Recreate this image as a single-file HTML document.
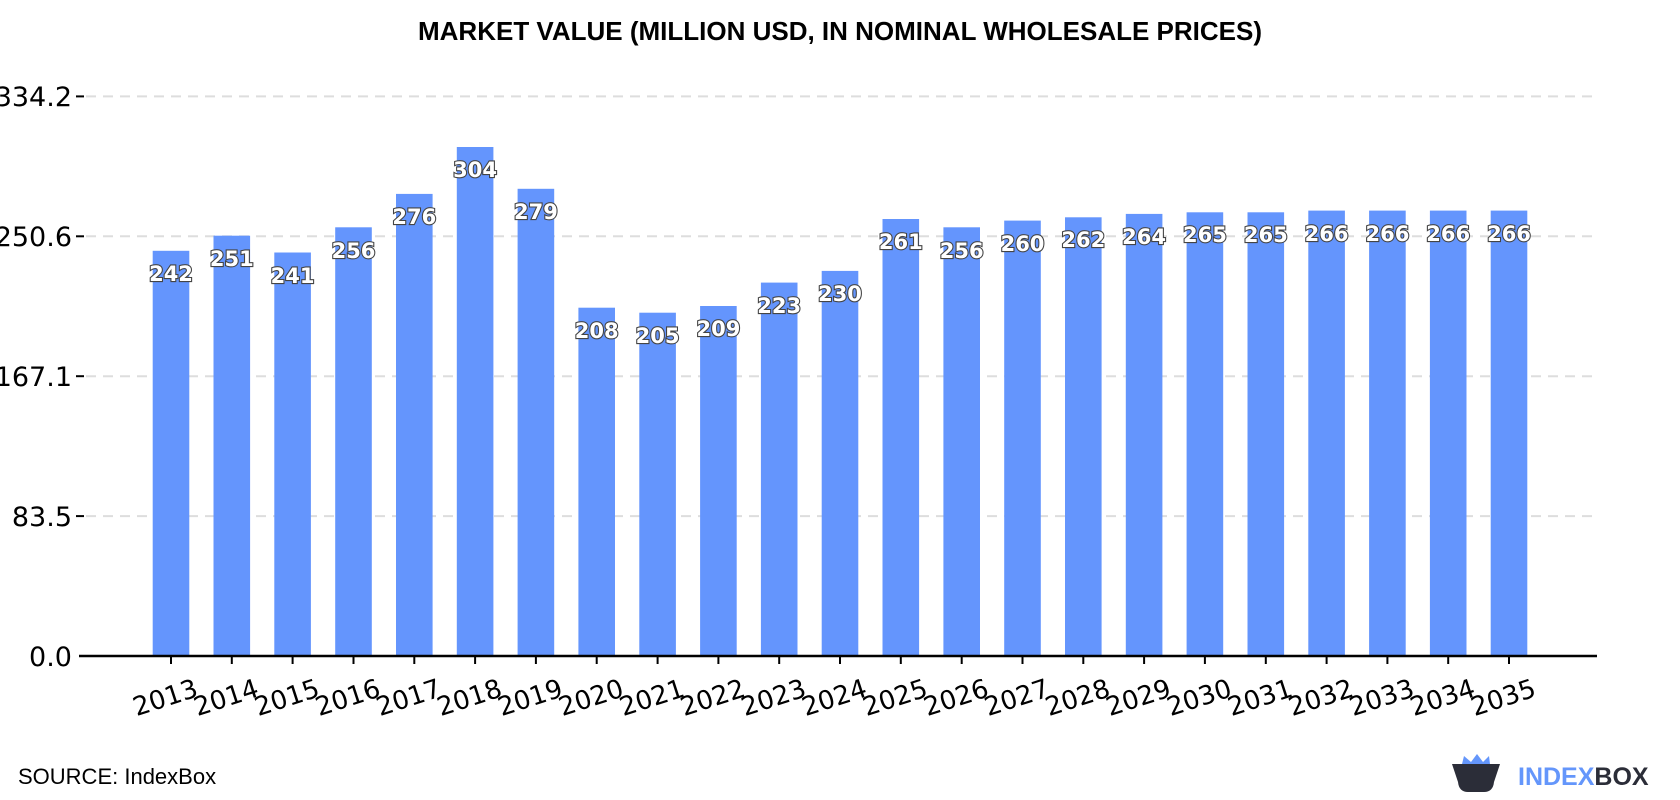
<!DOCTYPE html>
<html><head><meta charset="utf-8"><style>
body{margin:0;background:#fff;}
svg{display:block;font-family:"Liberation Sans",sans-serif;}
.v{font-weight:bold;font-size:21px;fill:#fff;stroke:#444;stroke-width:2.2px;paint-order:stroke;text-anchor:middle;font-family:"DejaVu Sans",sans-serif;}
.b{fill:#6495fd;}
.y{font-size:26px;font-family:"DejaVu Sans",sans-serif;text-anchor:middle;}
</style></head><body>
<svg width="1680" height="800" viewBox="0 0 1680 800" xmlns="http://www.w3.org/2000/svg">
<text x="840" y="40" text-anchor="middle" font-weight="bold" font-size="26">MARKET VALUE (MILLION USD, IN NOMINAL WHOLESALE PRICES)</text>
<g stroke="#dddddd" stroke-width="2" stroke-dasharray="10,7">
<line x1="86" x2="1597" y1="96.4" y2="96.4"/>
<line x1="86" x2="1597" y1="236.3" y2="236.3"/>
<line x1="86" x2="1597" y1="376.2" y2="376.2"/>
<line x1="86" x2="1597" y1="516.1" y2="516.1"/>
</g>
<g font-size="27" text-anchor="end" font-family="DejaVu Sans,sans-serif">
<text x="72" y="106">334.2</text><text x="72" y="246">250.6</text><text x="72" y="386">167.1</text><text x="72" y="526">83.5</text><text x="72" y="666">0.0</text>
</g>
<g stroke="#000" stroke-width="2"><line x1="76" x2="84" y1="96.4" y2="96.4"/><line x1="76" x2="84" y1="236.3" y2="236.3"/><line x1="76" x2="84" y1="376.2" y2="376.2"/><line x1="76" x2="84" y1="516.1" y2="516.1"/></g>

<g transform="translate(171,0)"><rect class="b" x="-18.3" y="250.8" width="36.6" height="405.2"/><text class="v" y="281">242</text></g>
<g transform="translate(231.8,0)"><rect class="b" x="-18.3" y="235.7" width="36.6" height="420.3"/><text class="v" y="266">251</text></g>
<g transform="translate(292.6,0)"><rect class="b" x="-18.3" y="252.5" width="36.6" height="403.5"/><text class="v" y="283">241</text></g>
<g transform="translate(353.5,0)"><rect class="b" x="-18.3" y="227.3" width="36.6" height="428.7"/><text class="v" y="258">256</text></g>
<g transform="translate(414.3,0)"><rect class="b" x="-18.3" y="193.9" width="36.6" height="462.1"/><text class="v" y="224">276</text></g>
<g transform="translate(475.1,0)"><rect class="b" x="-18.3" y="147" width="36.6" height="509"/><text class="v" y="177">304</text></g>
<g transform="translate(535.9,0)"><rect class="b" x="-18.3" y="188.8" width="36.6" height="467.2"/><text class="v" y="219">279</text></g>
<g transform="translate(596.7,0)"><rect class="b" x="-18.3" y="307.7" width="36.6" height="348.3"/><text class="v" y="338">208</text></g>
<g transform="translate(657.6,0)"><rect class="b" x="-18.3" y="312.7" width="36.6" height="343.3"/><text class="v" y="343">205</text></g>
<g transform="translate(718.4,0)"><rect class="b" x="-18.3" y="306" width="36.6" height="350"/><text class="v" y="336">209</text></g>
<g transform="translate(779.2,0)"><rect class="b" x="-18.3" y="282.6" width="36.6" height="373.4"/><text class="v" y="313">223</text></g>
<g transform="translate(840,0)"><rect class="b" x="-18.3" y="270.9" width="36.6" height="385.1"/><text class="v" y="301">230</text></g>
<g transform="translate(900.8,0)"><rect class="b" x="-18.3" y="219" width="36.6" height="437"/><text class="v" y="249">261</text></g>
<g transform="translate(961.7,0)"><rect class="b" x="-18.3" y="227.3" width="36.6" height="428.7"/><text class="v" y="258">256</text></g>
<g transform="translate(1022.5,0)"><rect class="b" x="-18.3" y="220.6" width="36.6" height="435.4"/><text class="v" y="251">260</text></g>
<g transform="translate(1083.3,0)"><rect class="b" x="-18.3" y="217.3" width="36.6" height="438.7"/><text class="v" y="247">262</text></g>
<g transform="translate(1144.1,0)"><rect class="b" x="-18.3" y="213.9" width="36.6" height="442.1"/><text class="v" y="244">264</text></g>
<g transform="translate(1204.9,0)"><rect class="b" x="-18.3" y="212.3" width="36.6" height="443.7"/><text class="v" y="242">265</text></g>
<g transform="translate(1265.8,0)"><rect class="b" x="-18.3" y="212.3" width="36.6" height="443.7"/><text class="v" y="242">265</text></g>
<g transform="translate(1326.6,0)"><rect class="b" x="-18.3" y="210.6" width="36.6" height="445.4"/><text class="v" y="241">266</text></g>
<g transform="translate(1387.4,0)"><rect class="b" x="-18.3" y="210.6" width="36.6" height="445.4"/><text class="v" y="241">266</text></g>
<g transform="translate(1448.2,0)"><rect class="b" x="-18.3" y="210.6" width="36.6" height="445.4"/><text class="v" y="241">266</text></g>
<g transform="translate(1509,0)"><rect class="b" x="-18.3" y="210.6" width="36.6" height="445.4"/><text class="v" y="241">266</text></g>

<line x1="79" x2="1597" y1="656" y2="656" stroke="#000" stroke-width="2.5"/>
<g stroke="#000" stroke-width="2">
<line x1="171" x2="171" y1="656" y2="664"/><line x1="231.8" x2="231.8" y1="656" y2="664"/><line x1="292.6" x2="292.6" y1="656" y2="664"/><line x1="353.5" x2="353.5" y1="656" y2="664"/><line x1="414.3" x2="414.3" y1="656" y2="664"/><line x1="475.1" x2="475.1" y1="656" y2="664"/><line x1="535.9" x2="535.9" y1="656" y2="664"/><line x1="596.7" x2="596.7" y1="656" y2="664"/><line x1="657.6" x2="657.6" y1="656" y2="664"/><line x1="718.4" x2="718.4" y1="656" y2="664"/><line x1="779.2" x2="779.2" y1="656" y2="664"/><line x1="840" x2="840" y1="656" y2="664"/><line x1="900.8" x2="900.8" y1="656" y2="664"/><line x1="961.7" x2="961.7" y1="656" y2="664"/><line x1="1022.5" x2="1022.5" y1="656" y2="664"/><line x1="1083.3" x2="1083.3" y1="656" y2="664"/><line x1="1144.1" x2="1144.1" y1="656" y2="664"/><line x1="1204.9" x2="1204.9" y1="656" y2="664"/><line x1="1265.8" x2="1265.8" y1="656" y2="664"/><line x1="1326.6" x2="1326.6" y1="656" y2="664"/><line x1="1387.4" x2="1387.4" y1="656" y2="664"/><line x1="1448.2" x2="1448.2" y1="656" y2="664"/><line x1="1509" x2="1509" y1="656" y2="664"/>
</g>
<g>
<text class="y" transform="translate(168,706) rotate(-18)">2013</text>
<text class="y" transform="translate(228.8,706) rotate(-18)">2014</text>
<text class="y" transform="translate(289.6,706) rotate(-18)">2015</text>
<text class="y" transform="translate(350.5,706) rotate(-18)">2016</text>
<text class="y" transform="translate(411.3,706) rotate(-18)">2017</text>
<text class="y" transform="translate(472.1,706) rotate(-18)">2018</text>
<text class="y" transform="translate(532.9,706) rotate(-18)">2019</text>
<text class="y" transform="translate(593.7,706) rotate(-18)">2020</text>
<text class="y" transform="translate(654.6,706) rotate(-18)">2021</text>
<text class="y" transform="translate(715.4,706) rotate(-18)">2022</text>
<text class="y" transform="translate(776.2,706) rotate(-18)">2023</text>
<text class="y" transform="translate(837,706) rotate(-18)">2024</text>
<text class="y" transform="translate(897.8,706) rotate(-18)">2025</text>
<text class="y" transform="translate(958.7,706) rotate(-18)">2026</text>
<text class="y" transform="translate(1019.5,706) rotate(-18)">2027</text>
<text class="y" transform="translate(1080.3,706) rotate(-18)">2028</text>
<text class="y" transform="translate(1141.1,706) rotate(-18)">2029</text>
<text class="y" transform="translate(1201.9,706) rotate(-18)">2030</text>
<text class="y" transform="translate(1262.8,706) rotate(-18)">2031</text>
<text class="y" transform="translate(1323.6,706) rotate(-18)">2032</text>
<text class="y" transform="translate(1384.4,706) rotate(-18)">2033</text>
<text class="y" transform="translate(1445.2,706) rotate(-18)">2034</text>
<text class="y" transform="translate(1506,706) rotate(-18)">2035</text>
</g>
<text x="18" y="784" font-size="22">SOURCE: IndexBox</text>
<g transform="translate(1452,756)">
<path d="M0 8 H48 L42 26 Q41 36 32 36 H16 Q7 36 6 26 Z" fill="#2b2d38"/>
<path d="M10 8 L12 0 L19 6 L25 -2 L31 6 L37 0 L38 8 Z" fill="#6496fb"/>
</g>
<text x="1518" y="785" font-size="25" font-weight="bold" fill="#6496fb">INDEX<tspan fill="#2b2d38">BOX</tspan></text>
</svg>
</body></html>
